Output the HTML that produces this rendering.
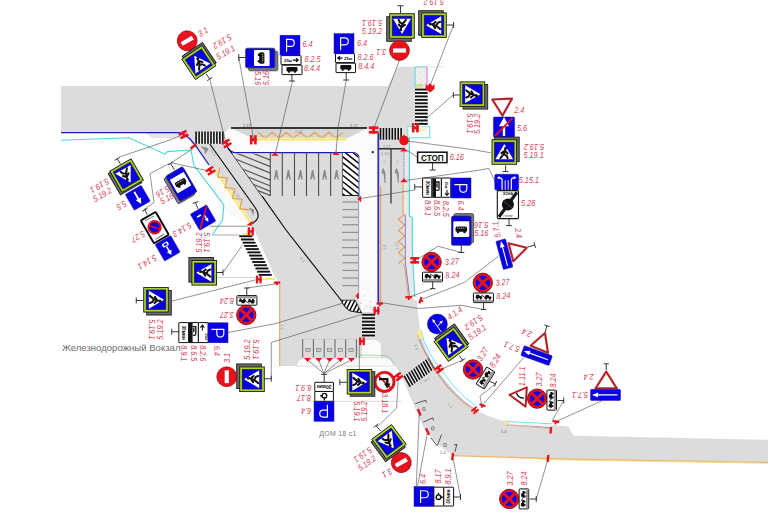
<!DOCTYPE html>
<html><head><meta charset="utf-8"><title>Road sign layout</title>
<style>html,body{margin:0;padding:0;background:#fff;}body{width:768px;height:512px;overflow:hidden;font-family:"Liberation Sans",sans-serif;}svg{display:block;}</style>
</head><body>
<svg width="768" height="512" viewBox="0 0 768 512" font-family="Liberation Sans, sans-serif">

<defs>
<g id="ped">
  <rect x="-12.3" y="-12.3" width="24.6" height="24.6" fill="#a8d42c" stroke="#1c1c1c" stroke-width="0.9"/>
  <rect x="-9.8" y="-9.8" width="19.6" height="19.6" fill="#0a00e4" stroke="#1c1c1c" stroke-width="0.6"/>
  <polygon points="0,-8 -8.9,7.2 8.9,7.2" fill="#fff"/>
  <circle cx="1.3" cy="-3.8" r="1.5" fill="#111"/>
  <path d="M0.9,-2.1 L-0.6,2.1 L-3.9,6.2 M-0.6,2.1 L2.4,3.9 L3.3,6.2 M0.7,-1.3 L-2.9,1.1 M0.7,-1.3 L3.3,1.5" stroke="#111" stroke-width="2" fill="none" stroke-linecap="round" stroke-linejoin="round"/>
  
</g>
<g id="pedsh">
  <rect x="-12.3" y="-12.3" width="24.6" height="24.6" fill="#6a6a6a" stroke="#1c1c1c" stroke-width="0.9"/>
</g>
<g id="noentry">
  <circle r="10" fill="#e8121c" stroke="#8a0008" stroke-width="0.6"/>
  <rect x="-6.4" y="-2.1" width="12.8" height="4.2" fill="#fff"/>
</g>
<g id="nostop">
  <circle r="9.7" fill="#e8121c" stroke="#70000a" stroke-width="0.8"/>
  <circle r="7.3" fill="#0a00e4"/>
  <path d="M-5.4,-5.4 L5.4,5.4 M5.4,-5.4 L-5.4,5.4" stroke="#e8121c" stroke-width="3"/>
</g>
<g id="P">
  <rect x="-10" y="-10" width="20" height="20" fill="#0a00e4" stroke="#2a20a0" stroke-width="0.5"/>
  <path d="M-3.4,6.6 V-5.8 H0.8 A3.5,3.5 0 0 1 0.8,1.2 H-3.4" stroke="#fff" stroke-width="1.15" fill="none"/>
</g>
<g id="bus">
  <rect x="-9.8" y="-14.6" width="19.6" height="29.2" rx="1.6" fill="#0a00e4" stroke="#303040" stroke-width="0.7"/>
  <rect x="-8" y="-9.4" width="16" height="15.6" rx="0.8" fill="#fff"/>
  <rect x="-5.8" y="-4.2" width="11.6" height="5.2" rx="1.5" fill="#111"/>
  <circle cx="-3.2" cy="1.2" r="1.3" fill="#111"/><circle cx="3.2" cy="1.2" r="1.3" fill="#111"/>
  <path d="M-4.2,-2.6 H4.2" stroke="#fff" stroke-width="0.7" stroke-dasharray="1.3 0.7"/>
</g>
<g id="bussh">
  <rect x="-9.8" y="-14.6" width="19.6" height="29.2" rx="1.6" fill="#7a7a86" stroke="#303040" stroke-width="0.7"/>
</g>
<g id="H">
  <rect x="-3.4" y="-4.6" width="2.6" height="9.2"/><rect x="0.8" y="-4.6" width="2.6" height="9.2"/><rect x="-3.4" y="-1.4" width="6.8" height="2.8"/>
</g>
<g id="T">
  <rect x="-4" y="-1.3" width="8" height="2.6"/><rect x="-1.1" y="-1.3" width="2.2" height="4.6"/>
</g>
<g id="B"><rect x="-1.4" y="-4.2" width="2.8" height="8.4" rx="0.6"/></g>
<g id="F">
  <path d="M-4.3,-1.7 H4.3 L1.4,1.2 L0,3.2 L-1.4,1.2 Z"/>
</g>
<g id="tow">
  <rect x="-10" y="-4.8" width="20" height="9.6" rx="0.8" fill="#fff" stroke="#111" stroke-width="1"/>
  <rect x="-9.4" y="2" width="18.8" height="2.3" fill="#9a9a9a"/>
  <path d="M-8,0.2 H-1.2 V-1.6 L-3.4,-1.8 L-4.6,-3 H-7 Z" fill="#111"/>
  <path d="M0.6,0.4 H8 V-1.4 H6 L5,-2.8 H2.4 L1.6,-1.4 Z" fill="#111"/>
  <path d="M-2.4,-3 L1.4,-0.6" stroke="#111" stroke-width="0.8"/>
  <circle cx="-6" cy="0.6" r="1.1" fill="#111"/><circle cx="-2.6" cy="0.6" r="1.1" fill="#111"/>
  <circle cx="2.6" cy="0.8" r="1.1" fill="#111"/><circle cx="6.4" cy="0.8" r="1.1" fill="#111"/>
</g>
</defs>

<path d="M61,86 L388,86 L398,66.7 L415,66.7 L415,126.5 L407.5,126.5 L407.5,138 L404.5,141 L404.5,262 L409,297 L417,301 L418.5,318 L420.5,333 L425,347 L430,357.5 L437,369 L445,380 L457,394 L472.5,408.5 L488,416 L505,421.5 L551,425 L567.5,426.3 C570.5,427 570.5,435 575,435.8 L768,439.8 L768,462.4 L572,459.3 L452.5,455.4 L443,448.3 L434.5,441.5 L428.5,435 L424,428.3 L420.5,420.5 L417,412.5 L411,398.5 L405.5,385.3 L402,377.3 L398,370 L394.6,365 L394.5,366 L280,366 L280,283 L275,277 L254.7,231 L250,223 L238.75,206.5 L215,170 L209,165 L196.5,147 L190,138.5 L185,135 L179,132.5 L61,132.5 Z" fill="#dcdcdc"/>
<polygon points="404.5,141 409.2,139 409.2,216 412,217.5 412,250 414.6,297 409,297 404.5,262" fill="#e9e9e9"/>
<path d="M231,128.3 L367,128.3 L377.6,128.3 L377.6,300 L379,305 L379,312 L362,312 L358.6,300 L358.6,158 Q358.6,152.6 353,152.6 L233,152.6 Q227,150 225,143 L225,134 Q226,129 231,128.3 Z" fill="#fbfbfb"/>
<polygon points="232,128.6 367,128.6 346,139 254,139" fill="#d6d6d6"/>
<path d="M362,357.5 V340 H375 Q381,341 381,348 V357.5 Z" fill="#fbfbfb"/>
<path d="M296,366.2 Q298,358 306,357.6 L384,357.6 Q392,358 394.5,366.2 Z" fill="#fbfbfb" stroke="#c4c4c4" stroke-width="0.5"/>
<path d="M359,357.8 L360.5,355 L385,355.6 Q391,357 393.5,364" fill="none" stroke="#78c878" stroke-width="0.7"/>
<polygon points="196.5,147 209,165 215,170 250,223 247,226 222,210 205,178 193,150" fill="#fafafa"/>
<polygon points="146,132.8 180,132.8 184,135.5 178,137.5 152,137.5" fill="#e6e6e6" stroke="#cfcfcf" stroke-width="0.4"/>
<pattern id="xh" width="2.4" height="2.4" patternUnits="userSpaceOnUse"><path d="M0,0 L2.4,2.4 M2.4,0 L0,2.4" stroke="#c4c4c4" stroke-width="0.4"/></pattern>
<rect x="415" y="66.9" width="12" height="21" fill="#fff"/><rect x="415" y="66.9" width="12" height="21" fill="url(#xh)"/>
<path d="M415,87.5 V66.9 H427" fill="none" stroke="#40d8d8" stroke-width="0.9"/>
<path d="M427,66.9 V86" fill="none" stroke="#e040e0" stroke-width="0.8"/>
<rect x="415.4" y="84" width="8" height="3.6" fill="#c0e080" opacity="0.8"/>
<path d="M415,66.8 H446" stroke="#d0d0d0" stroke-width="0.5"/>
<rect x="407.8" y="126.8" width="22" height="11" fill="#fff" stroke="#58dcdc" stroke-width="0.9"/>
<rect x="418" y="127.4" width="9" height="4" fill="#e8f0c0" opacity="0.8"/>
<rect x="195" y="131.5" width="30" height="12.3" fill="#ececec"/>
<rect x="195.30" y="131.5" width="1.63" height="12.30" fill="#111"/>
<rect x="198.27" y="131.5" width="1.63" height="12.30" fill="#111"/>
<rect x="201.24" y="131.5" width="1.63" height="12.30" fill="#111"/>
<rect x="204.21" y="131.5" width="1.63" height="12.30" fill="#111"/>
<rect x="207.18" y="131.5" width="1.63" height="12.30" fill="#111"/>
<rect x="210.15" y="131.5" width="1.63" height="12.30" fill="#111"/>
<rect x="213.12" y="131.5" width="1.63" height="12.30" fill="#111"/>
<rect x="216.09" y="131.5" width="1.63" height="12.30" fill="#111"/>
<rect x="219.06" y="131.5" width="1.63" height="12.30" fill="#111"/>
<rect x="222.03" y="131.5" width="1.63" height="12.30" fill="#111"/>
<rect x="379.5" y="128" width="23.5" height="11.7" fill="#ececec"/>
<rect x="379.70" y="128" width="1.62" height="11.70" fill="#111"/>
<rect x="382.65" y="128" width="1.62" height="11.70" fill="#111"/>
<rect x="385.60" y="128" width="1.62" height="11.70" fill="#111"/>
<rect x="388.55" y="128" width="1.62" height="11.70" fill="#111"/>
<rect x="391.50" y="128" width="1.62" height="11.70" fill="#111"/>
<rect x="394.45" y="128" width="1.62" height="11.70" fill="#111"/>
<rect x="397.40" y="128" width="1.62" height="11.70" fill="#111"/>
<rect x="400.35" y="128" width="1.62" height="11.70" fill="#111"/>
<rect x="415" y="88.3" width="12.7" height="38" fill="#fafafa"/>
<rect x="415" y="88.60" width="12.70" height="1.89" fill="#111"/>
<rect x="415" y="92.04" width="12.70" height="1.89" fill="#111"/>
<rect x="415" y="95.47" width="12.70" height="1.89" fill="#111"/>
<rect x="415" y="98.91" width="12.70" height="1.89" fill="#111"/>
<rect x="415" y="102.35" width="12.70" height="1.89" fill="#111"/>
<rect x="415" y="105.78" width="12.70" height="1.89" fill="#111"/>
<rect x="415" y="109.22" width="12.70" height="1.89" fill="#111"/>
<rect x="415" y="112.65" width="12.70" height="1.89" fill="#111"/>
<rect x="415" y="116.09" width="12.70" height="1.89" fill="#111"/>
<rect x="415" y="119.53" width="12.70" height="1.89" fill="#111"/>
<rect x="415" y="122.96" width="12.70" height="1.89" fill="#111"/>
<rect x="362" y="313.6" width="13" height="24.4" fill="#ececec"/>
<rect x="362" y="313.80" width="13.00" height="1.90" fill="#111"/>
<rect x="362" y="317.26" width="13.00" height="1.90" fill="#111"/>
<rect x="362" y="320.71" width="13.00" height="1.90" fill="#111"/>
<rect x="362" y="324.17" width="13.00" height="1.90" fill="#111"/>
<rect x="362" y="327.63" width="13.00" height="1.90" fill="#111"/>
<rect x="362" y="331.09" width="13.00" height="1.90" fill="#111"/>
<rect x="362" y="334.54" width="13.00" height="1.90" fill="#111"/>
<rect x="239.30" y="235.30" width="13" height="1.9" fill="#111"/>
<rect x="240.92" y="238.52" width="13" height="1.9" fill="#111"/>
<rect x="242.54" y="241.74" width="13" height="1.9" fill="#111"/>
<rect x="244.16" y="244.96" width="13" height="1.9" fill="#111"/>
<rect x="245.78" y="248.18" width="13" height="1.9" fill="#111"/>
<rect x="247.40" y="251.40" width="13" height="1.9" fill="#111"/>
<rect x="249.02" y="254.62" width="13" height="1.9" fill="#111"/>
<rect x="250.64" y="257.84" width="13" height="1.9" fill="#111"/>
<rect x="252.26" y="261.06" width="13" height="1.9" fill="#111"/>
<rect x="253.88" y="264.28" width="13" height="1.9" fill="#111"/>
<rect x="255.50" y="267.50" width="13" height="1.9" fill="#111"/>
<rect x="257.12" y="270.72" width="13" height="1.9" fill="#111"/>
<rect x="258.74" y="273.94" width="13" height="1.9" fill="#111"/>
<g transform="translate(419.4,372.2) rotate(-36.6) skewX(-7.3)">
<rect x="-16" y="-6.3" width="32" height="12.6" fill="#ececec"/>
<rect x="-16.00" y="-6.3" width="1.65" height="12.6" fill="#111"/>
<rect x="-13.03" y="-6.3" width="1.65" height="12.6" fill="#111"/>
<rect x="-10.06" y="-6.3" width="1.65" height="12.6" fill="#111"/>
<rect x="-7.09" y="-6.3" width="1.65" height="12.6" fill="#111"/>
<rect x="-4.12" y="-6.3" width="1.65" height="12.6" fill="#111"/>
<rect x="-1.15" y="-6.3" width="1.65" height="12.6" fill="#111"/>
<rect x="1.82" y="-6.3" width="1.65" height="12.6" fill="#111"/>
<rect x="4.79" y="-6.3" width="1.65" height="12.6" fill="#111"/>
<rect x="7.76" y="-6.3" width="1.65" height="12.6" fill="#111"/>
<rect x="10.73" y="-6.3" width="1.65" height="12.6" fill="#111"/>
<rect x="13.70" y="-6.3" width="1.65" height="12.6" fill="#111"/>
</g>
<polyline points="231,128 367,128" fill="none" stroke="#000" stroke-width="1.5" />
<polyline points="258.0,132.2 265.08,138.2 272.17,132.2 279.25,138.2 286.33,132.2 293.42,138.2 300.5,132.2 307.58,138.2 314.67,132.2 321.75,138.2 328.83,132.2 335.92,138.2 343.0,132.2" fill="none" stroke="#e8a058" stroke-width="1.15" />
<polyline points="255,139.4 346,139.4" fill="none" stroke="#fbf2b4" stroke-width="3.2" />
<polyline points="255,139.4 346,139.4" fill="none" stroke="#f4e04c" stroke-width="1.0" />
<path d="M226.5,144 Q228,151 234,152.6 L353,152.6 Q358.8,152.6 358.8,158.5 L358.8,197" fill="none" stroke="#1c1cb4" stroke-width="1.2"/>
<polyline points="358.6,197 358.6,298" fill="none" stroke="#7474b4" stroke-width="0.7" />
<polyline points="378.3,133 378.3,303" fill="none" stroke="#2c2cc0" stroke-width="1.7" />
<polyline points="380.6,186 380.6,303" fill="none" stroke="#e8a058" stroke-width="1.2" />
<polyline points="61,132.6 179,132.6 185,135 190,139 196.5,147 209,165" fill="none" stroke="#1c1cb4" stroke-width="1.25" />
<polyline points="61,140.2 129,137.8 165,154.2 167.5,151.6 191,150 193.8,165 223.8,205 222.5,220 212.5,234.5" fill="none" stroke="#44d8dc" stroke-width="1.1" />
<polyline points="214.5,169.6 250.5,222.5" fill="none" stroke="#fbf2b4" stroke-width="3.4" />
<polyline points="214.5,169.6 250.5,222.5" fill="none" stroke="#f4e04c" stroke-width="1.0" />
<polyline points="219.96,167.45 217.73,176.87 227.33,178.07 225.11,187.49 234.71,188.7 232.48,198.12 242.08,199.32 239.86,208.74 249.46,209.95" fill="none" stroke="#e8a058" stroke-width="1.25" />
<path d="M209.8,144 L254.7,207 Q260.5,215.5 256.5,220 L252.5,223.5" fill="none" stroke="#111" stroke-width="1.2"/>
<path d="M228.5,148.5 L286,230 L341.1,300.2 Q346,310 352,311.2 L361.6,312.6" fill="none" stroke="#111" stroke-width="1.2"/>
<clipPath id="chx"><polygon points="232,153.4 270.5,153.4 270.5,196 262,196"/></clipPath>
<polygon points="232,153.4 270.5,153.4 270.5,196 262,196" fill="#e0e0e0"/>
<g clip-path="url(#chx)">
<path d="M270.5,160.2 L200,132.0" stroke="#585858" stroke-width="1.25"/>
<path d="M270.5,166.7 L200,138.5" stroke="#585858" stroke-width="1.25"/>
<path d="M270.5,173.1 L200,144.9" stroke="#585858" stroke-width="1.25"/>
<path d="M270.5,180.2 L200,152.0" stroke="#585858" stroke-width="1.25"/>
<path d="M270.5,186 L200,157.8" stroke="#585858" stroke-width="1.25"/>
<path d="M270.5,191.3 L200,163.1" stroke="#585858" stroke-width="1.25"/>
<path d="M270.5,195.6 L200,167.4" stroke="#585858" stroke-width="1.25"/>
</g>
<polyline points="270.3,153 270.3,196" fill="none" stroke="#4c4c4c" stroke-width="1.1" />
<polyline points="282.3,153 282.3,196" fill="none" stroke="#4c4c4c" stroke-width="1.1" />
<polyline points="294.5,153 294.5,196" fill="none" stroke="#4c4c4c" stroke-width="1.1" />
<polyline points="306.5,153 306.5,196" fill="none" stroke="#4c4c4c" stroke-width="1.1" />
<polyline points="318.6,153 318.6,196" fill="none" stroke="#4c4c4c" stroke-width="1.1" />
<polyline points="330.6,153 330.6,196" fill="none" stroke="#4c4c4c" stroke-width="1.1" />
<polyline points="342.5,153 342.5,196" fill="none" stroke="#4c4c4c" stroke-width="1.1" />
<path d="M274.6,179.5 L276.3,170 L278.0,179.5 M275.3,176 H277.3" stroke="#858585" stroke-width="1.4" fill="none"/>
<path d="M286.7,179.5 L288.4,170 L290.09999999999997,179.5 M287.4,176 H289.4" stroke="#858585" stroke-width="1.4" fill="none"/>
<path d="M298.8,179.5 L300.5,170 L302.2,179.5 M299.5,176 H301.5" stroke="#858585" stroke-width="1.4" fill="none"/>
<path d="M310.90000000000003,179.5 L312.6,170 L314.3,179.5 M311.6,176 H313.6" stroke="#858585" stroke-width="1.4" fill="none"/>
<path d="M322.90000000000003,179.5 L324.6,170 L326.3,179.5 M323.6,176 H325.6" stroke="#858585" stroke-width="1.4" fill="none"/>
<path d="M334.90000000000003,179.5 L336.6,170 L338.3,179.5 M335.6,176 H337.6" stroke="#858585" stroke-width="1.4" fill="none"/>
<clipPath id="cb"><path d="M342.8,153 H353 Q358.6,153 358.6,158.5 V195.5 H342.8 Z"/></clipPath>
<path d="M342.8,153 H353 Q358.6,153 358.6,158.5 V195.5 H342.8 Z" fill="#fff"/>
<g clip-path="url(#cb)">
<path d="M342,131.4 L360,145.8" stroke="#111" stroke-width="1.6"/>
<path d="M342,137.6 L360,152.0" stroke="#111" stroke-width="1.6"/>
<path d="M342,143.8 L360,158.2" stroke="#111" stroke-width="1.6"/>
<path d="M342,150.0 L360,164.4" stroke="#111" stroke-width="1.6"/>
<path d="M342,156.2 L360,170.6" stroke="#111" stroke-width="1.6"/>
<path d="M342,162.4 L360,176.8" stroke="#111" stroke-width="1.6"/>
<path d="M342,168.6 L360,183.0" stroke="#111" stroke-width="1.6"/>
<path d="M342,174.8 L360,189.2" stroke="#111" stroke-width="1.6"/>
<path d="M342,181.0 L360,195.4" stroke="#111" stroke-width="1.6"/>
<path d="M342,187.2 L360,201.6" stroke="#111" stroke-width="1.6"/>
<path d="M342,193.4 L360,207.8" stroke="#111" stroke-width="1.6"/>
<path d="M342,199.6 L360,214.0" stroke="#111" stroke-width="1.6"/>
</g>
<polyline points="342.8,195.5 358.6,195.5" fill="none" stroke="#111" stroke-width="0.9" />
<polyline points="342.3,202.0 358,202.0" fill="none" stroke="#909090" stroke-width="1.2" />
<polyline points="342.3,209.6 358,209.6" fill="none" stroke="#909090" stroke-width="1.2" />
<polyline points="342.3,217.2 358,217.2" fill="none" stroke="#909090" stroke-width="1.2" />
<polyline points="342.3,224.8 358,224.8" fill="none" stroke="#909090" stroke-width="1.2" />
<polyline points="342.3,232.4 358,232.4" fill="none" stroke="#909090" stroke-width="1.2" />
<polyline points="342.3,240.0 358,240.0" fill="none" stroke="#909090" stroke-width="1.2" />
<polyline points="342.3,247.6 358,247.6" fill="none" stroke="#909090" stroke-width="1.2" />
<polyline points="342.3,255.2 358,255.2" fill="none" stroke="#909090" stroke-width="1.2" />
<polyline points="342.3,262.8 358,262.8" fill="none" stroke="#909090" stroke-width="1.2" />
<polyline points="342.3,270.4 358,270.4" fill="none" stroke="#909090" stroke-width="1.2" />
<polyline points="342.3,278.0 358,278.0" fill="none" stroke="#909090" stroke-width="1.2" />
<polyline points="342.3,285.6 358,285.6" fill="none" stroke="#909090" stroke-width="1.2" />
<clipPath id="ct"><path d="M341.1,300.2 L355.2,300.2 Q358,306 360,310 L361.6,312.6 L352,311.2 Q346,310 341.1,300.2 Z"/></clipPath>
<path d="M341.1,300.2 L355.2,300.2 Q358,306 360,310 L361.6,312.6 L352,311.2 Q346,310 341.1,300.2 Z" fill="#fff" stroke="#111" stroke-width="0.7"/>
<g clip-path="url(#ct)">
<path d="M344,298 L336,314" stroke="#111" stroke-width="1.6"/>
<path d="M348,298 L340,314" stroke="#111" stroke-width="1.6"/>
<path d="M352,298 L344,314" stroke="#111" stroke-width="1.6"/>
<path d="M356,298 L348,314" stroke="#111" stroke-width="1.6"/>
<path d="M360,298 L352,314" stroke="#111" stroke-width="1.6"/>
<path d="M364,298 L356,314" stroke="#111" stroke-width="1.6"/>
<path d="M368,298 L360,314" stroke="#111" stroke-width="1.6"/>
<path d="M372,298 L364,314" stroke="#111" stroke-width="1.6"/>
</g>
<polyline points="302.7,339 302.7,357.5" fill="none" stroke="#555" stroke-width="0.9" />
<polyline points="313.4,339 313.4,357.5" fill="none" stroke="#555" stroke-width="0.9" />
<polyline points="324.2,339 324.2,357.5" fill="none" stroke="#555" stroke-width="0.9" />
<polyline points="335,339 335,357.5" fill="none" stroke="#555" stroke-width="0.9" />
<polyline points="345.7,339 345.7,357.5" fill="none" stroke="#555" stroke-width="0.9" />
<polyline points="356.4,339 356.4,357.5" fill="none" stroke="#555" stroke-width="0.9" />
<polyline points="302.7,339.2 356.4,339.2" fill="none" stroke="#bdbdbd" stroke-width="0.5" />
<rect x="305.8" y="348.6" width="4.4" height="2.8" fill="#c8c8c8" stroke="#666" stroke-width="0.5"/>
<rect x="316.6" y="348.6" width="4.4" height="2.8" fill="#c8c8c8" stroke="#666" stroke-width="0.5"/>
<rect x="327.40000000000003" y="348.6" width="4.4" height="2.8" fill="#c8c8c8" stroke="#666" stroke-width="0.5"/>
<rect x="338.2" y="348.6" width="4.4" height="2.8" fill="#c8c8c8" stroke="#666" stroke-width="0.5"/>
<rect x="348.8" y="348.6" width="4.4" height="2.8" fill="#c8c8c8" stroke="#666" stroke-width="0.5"/>
<polyline points="378.6,148.8 404,148.8" fill="none" stroke="#111" stroke-width="1.3" />
<polyline points="391,149 391,203.5" fill="none" stroke="#222" stroke-width="1.15" />
<path d="M385.0,183 V174 Q385.0,171 383.0,171.5 M381.79999999999995,173 L383.2,168.6 L384.79999999999995,172.4 Z" stroke="#8a8a8a" stroke-width="1" fill="#8a8a8a"/>
<path d="M383.4,161 H385.4 M383.4,163 H385.4" stroke="#9a9a9a" stroke-width="0.5"/>
<path d="M398.20000000000005,183 V174 Q398.20000000000005,171 396.20000000000005,171.5 M395.0,173 L396.40000000000003,168.6 L398.0,172.4 Z" stroke="#8a8a8a" stroke-width="1" fill="#8a8a8a"/>
<path d="M396.6,161 H398.6 M396.6,163 H398.6" stroke="#9a9a9a" stroke-width="0.5"/>
<polyline points="404,152 404,179" fill="none" stroke="#5858d8" stroke-width="0.9" stroke-dasharray="0.9 0.9"/>
<polyline points="403,183.5 403,214" fill="none" stroke="#e8a058" stroke-width="1.0" />
<polyline points="404.9,214.0 398.3,219.5 404.9,225.0 398.3,230.5 404.9,236.0 398.3,241.5 404.9,247.0 398.3,252.5 404.9,258.0 398.3,263.5" fill="none" stroke="#e8a058" stroke-width="1.1" />
<polyline points="403,263.5 404.4,266 408.4,297" fill="none" stroke="#e8a058" stroke-width="0.9" />
<polyline points="405.3,215 405.3,262 409.6,297" fill="none" stroke="#4848d0" stroke-width="0.7" />
<polyline points="409.4,138 409.4,216 412.3,217.5 412.3,250 414.8,297" fill="none" stroke="#44d8dc" stroke-width="1.1" />
<polyline points="417.5,335 422,347 427.5,357.5 433,368 440,377.5 447,387 455,395 463,402.5 472.5,408.7" fill="none" stroke="#e8a058" stroke-width="0.9" />
<polyline points="418.5,336 423,347.5 428.5,357.5 434,368 441,377.5 448,386.5 456,394.5 464,401.8 473.5,408" fill="none" stroke="#6060d0" stroke-width="0.5" />
<polyline points="421,330 424,341 430,353.7 437,365 445,375 454,386.5 465,397.5 476,406" fill="none" stroke="#44d8dc" stroke-width="0.8" />
<polygon points="417,331 421,329 423,338 419,339" fill="#f4ec90"/>
<polyline points="504,421.3 528,422.6 552.5,423.8" fill="none" stroke="#44d8dc" stroke-width="0.8" />
<polyline points="506,424 528,425.6 551,427.6" fill="none" stroke="#7060c0" stroke-width="0.7" />
<polyline points="506,425 528,426.6 551,428.6" fill="none" stroke="#e8a058" stroke-width="0.7" />
<polygon points="503.5,420.5 507.5,420.8 507.5,425 504.5,424.5" fill="#f4ec90"/>
<polygon points="508,422 551,424.6 551,427 508,424.6" fill="#f4f4fa"/>
<polyline points="452.5,455.6 572,459.3 768,462.4" fill="none" stroke="#eeb868" stroke-width="1.4" />
<polyline points="540,459.6 768,463.4" fill="none" stroke="#f2dc90" stroke-width="0.8" />
<polyline points="279.7,283.5 279.7,366" fill="none" stroke="#e8a058" stroke-width="1.0" />
<rect x="243" y="233.2" width="8" height="1.6" fill="#f4e04c"/>
<rect x="263" y="278.2" width="12" height="1.5" fill="#f4e04c"/>
<path d="M415.2,403.7 L425.8,400.2 L426.4,402.8 M423.1,422.2 L432.8,417.8 L433.5,420.4 M431,438 L437.2,445.9 L441.6,434.5 M453.9,445 L456.9,444.3 L454.8,452" stroke="#444" stroke-width="0.9" fill="none"/>
<rect x="422.7" y="407.5" width="2.6" height="3" rx="0.6" fill="#d0d0d0" stroke="#555" stroke-width="0.6"/>
<rect x="431.5" y="426.8" width="2.6" height="3" rx="0.6" fill="#d0d0d0" stroke="#555" stroke-width="0.6"/>
<rect x="443.8" y="443.5" width="2.6" height="3" rx="0.6" fill="#d0d0d0" stroke="#555" stroke-width="0.6"/>
<path d="M200.5,146 L208.8,148.6 L205,154.5 L204.6,150.4 Z" fill="#8c8c8c"/>
<path d="M248.5,207.5 L254,209.5 L253.5,215.5 L251.6,211.5 Z" fill="#8c8c8c"/>
<circle cx="372.7" cy="152.2" r="1.1" fill="#111"/>
<text transform="translate(243,127) rotate(0)" font-size="4" fill="#666">1.17</text>
<text transform="translate(295,132.5) rotate(0)" font-size="4" fill="#888">1.17</text>
<text transform="translate(350,127) rotate(0)" font-size="4" fill="#666">1.17</text>
<text transform="translate(296,183) rotate(0)" font-size="4" fill="#eee">12.1</text>
<text transform="translate(383,147.5) rotate(0)" font-size="4" fill="#888">1.17</text>
<text transform="translate(381,155) rotate(0)" font-size="4" fill="#888">1.12</text>
<text transform="translate(210,150) rotate(55)" font-size="4" fill="#888">12.1</text>
<text transform="translate(233,192) rotate(55)" font-size="4" fill="#888">1.17</text>
<text transform="translate(300,258) rotate(55)" font-size="4" fill="#888">1.1</text>
<text transform="translate(386,250) rotate(-90)" font-size="4" fill="#888">1.4</text>
<text transform="translate(398,250) rotate(-90)" font-size="4" fill="#888">1.17</text>
<text transform="translate(283,330) rotate(-90)" font-size="4" fill="#888">1.1</text>
<text transform="translate(501,433) rotate(0)" font-size="4" fill="#666">1.4</text>
<text transform="translate(440,453.5) rotate(0)" font-size="4" fill="#666">1.4</text>
<text transform="translate(447,405) rotate(40)" font-size="4" fill="#888">1.1</text>
<text transform="translate(414,345) rotate(70)" font-size="4" fill="#888">1.1</text>
<text transform="translate(421,384) rotate(-28)" font-size="3.6" fill="#888">1.14.1</text>
<polyline points="209.8,79.4 226,143" fill="none" stroke="#4a4a4a" stroke-width="0.6" />
<polyline points="238.75,57.5 253.6,139" fill="none" stroke="#4a4a4a" stroke-width="0.6" />
<polyline points="292.5,81 275.2,154" fill="none" stroke="#4a4a4a" stroke-width="0.6" />
<polyline points="346.25,80 338,128 336,153" fill="none" stroke="#4a4a4a" stroke-width="0.6" />
<polyline points="399.5,60 373.6,129" fill="none" stroke="#4a4a4a" stroke-width="0.6" />
<polyline points="453.5,25 430,86" fill="none" stroke="#4a4a4a" stroke-width="0.6" />
<polyline points="453,95 428.75,116.3 416,127" fill="none" stroke="#4a4a4a" stroke-width="0.6" />
<polyline points="407,141 470,149.2 491,152.8" fill="none" stroke="#4a4a4a" stroke-width="0.6" />
<polyline points="407,150.3 417.5,157.5" fill="none" stroke="#4a4a4a" stroke-width="0.6" />
<polyline points="407,180.3 480,170 488.75,168.4 495.8,182.8" fill="none" stroke="#4a4a4a" stroke-width="0.6" />
<polyline points="414.7,190 361,198.4" fill="none" stroke="#4a4a4a" stroke-width="0.6" />
<polyline points="461.5,252.5 438,246.3 418.5,258.6" fill="none" stroke="#4a4a4a" stroke-width="0.6" />
<polyline points="432.7,288.6 409.5,297" fill="none" stroke="#4a4a4a" stroke-width="0.6" />
<polyline points="498.4,256.3 464.4,282.4 450,288.3 422.6,299" fill="none" stroke="#4a4a4a" stroke-width="0.6" />
<polyline points="483.6,309.5 461.3,305.3 418.5,308.5 381,302.6" fill="none" stroke="#4a4a4a" stroke-width="0.6" />
<polyline points="462.6,360.2 442.5,368.7" fill="none" stroke="#4a4a4a" stroke-width="0.6" />
<polyline points="495.5,383.75 480,396.25 481.5,404" fill="none" stroke="#4a4a4a" stroke-width="0.6" />
<polyline points="523.75,357.5 483.75,403.75" fill="none" stroke="#4a4a4a" stroke-width="0.6" />
<polyline points="563.75,400.5 552.5,420" fill="none" stroke="#4a4a4a" stroke-width="0.6" />
<polyline points="602.5,400.5 556,421.6" fill="none" stroke="#4a4a4a" stroke-width="0.6" />
<polyline points="536.25,499 548,459" fill="none" stroke="#4a4a4a" stroke-width="0.6" />
<polyline points="460.5,497 453,458" fill="none" stroke="#4a4a4a" stroke-width="0.6" />
<polyline points="416.25,486.5 419.25,413" fill="none" stroke="#4a4a4a" stroke-width="0.6" />
<polyline points="417.5,486.5 427.5,432" fill="none" stroke="#4a4a4a" stroke-width="0.6" />
<polyline points="398.6,377.5 398.2,380 396.6,408 378.5,425.6 376.2,425.6" fill="none" stroke="#4a4a4a" stroke-width="0.6" />
<polyline points="359.3,345.6 359.3,369" fill="none" stroke="#4a4a4a" stroke-width="0.6" />
<polyline points="307.6,360 323.8,373.6" fill="none" stroke="#4a4a4a" stroke-width="0.6" />
<polyline points="318.7,360 323.8,373.6" fill="none" stroke="#4a4a4a" stroke-width="0.6" />
<polyline points="329.6,360 323.8,373.6" fill="none" stroke="#4a4a4a" stroke-width="0.6" />
<polyline points="340.4,360 323.8,373.6" fill="none" stroke="#4a4a4a" stroke-width="0.6" />
<polyline points="351.5,360 323.8,373.6" fill="none" stroke="#4a4a4a" stroke-width="0.6" />
<polyline points="271.25,378.75 271.25,342.5 363,314" fill="none" stroke="#4a4a4a" stroke-width="0.6" />
<polyline points="228,332.5 275,323.75 342,303.4" fill="none" stroke="#4a4a4a" stroke-width="0.6" />
<polyline points="171.25,301.25 255,280" fill="none" stroke="#4a4a4a" stroke-width="0.6" />
<polyline points="223,272.5 242.5,245" fill="none" stroke="#4a4a4a" stroke-width="0.6" />
<polyline points="217,277.5 255,277.5" fill="none" stroke="#b8b8b8" stroke-width="0.6" />
<polyline points="246.75,288 278,283.6" fill="none" stroke="#4a4a4a" stroke-width="0.6" />
<polyline points="210,226.25 247.5,226.25" fill="none" stroke="#4a4a4a" stroke-width="0.6" />
<polyline points="212.5,235 240,235" fill="none" stroke="#a87878" stroke-width="0.7" />
<polyline points="119.7,156.9 169.7,140 181,135.5" fill="none" stroke="#4a4a4a" stroke-width="0.6" />
<polyline points="171.25,162.7 193,148.6" fill="none" stroke="#4a4a4a" stroke-width="0.6" />
<polyline points="171.25,162.7 206.4,170.5" fill="none" stroke="#4a4a4a" stroke-width="0.6" />
<polyline points="144,209.5 154,202.5 150,173.6 169.7,163.4" fill="none" stroke="#4a4a4a" stroke-width="0.6" />
<polyline points="306.6,401.3 401.3,401.3" fill="none" stroke="#b0b0b0" stroke-width="0.5" />
<use href="#H" transform="translate(183.5,134.6) rotate(63) scale(0.95)" fill="#e8121c"/>
<use href="#B" transform="translate(193.4,146.5) rotate(55) scale(0.85)" fill="#e8121c"/>
<use href="#H" transform="translate(226.6,143.5) rotate(60) scale(0.95)" fill="#e8121c"/>
<use href="#H" transform="translate(210.5,170.8) rotate(58) scale(0.95)" fill="#e8121c"/>
<use href="#H" transform="translate(253.3,139.8) rotate(0) scale(1)" fill="#e8121c"/>
<use href="#F" transform="translate(275,154.4) rotate(180) scale(0.85)" fill="#e8121c"/>
<use href="#F" transform="translate(336,153.6) rotate(180) scale(0.8)" fill="#e8121c"/>
<use href="#H" transform="translate(373.6,130) rotate(90) scale(1.05)" fill="#e8121c"/>
<use href="#H" transform="translate(415.3,127.8) rotate(0) scale(1.0)" fill="#e8121c"/>
<circle cx="404" cy="140.5" r="4.8" fill="#e8121c"/>
<use href="#T" transform="translate(404,137) rotate(180) scale(0.7)" fill="#e8121c"/>
<use href="#F" transform="translate(404,150) rotate(180) scale(0.9)" fill="#e8121c"/>
<use href="#F" transform="translate(404,180.8) rotate(180) scale(0.9)" fill="#e8121c"/>
<path d="M425.5,84 L427.5,86 L430,83 L432.5,86 L434.5,84 V89 L430,92.5 L425.5,89 Z" fill="#e8121c"/>
<use href="#F" transform="translate(359.8,199) rotate(90) scale(0.8)" fill="#e8121c"/>
<use href="#H" transform="translate(414.7,260.3) rotate(90) scale(0.95)" fill="#e8121c"/>
<use href="#T" transform="translate(408.75,297.2) rotate(0) scale(0.85)" fill="#e8121c"/>
<use href="#T" transform="translate(420.5,300.3) rotate(-70) scale(0.85)" fill="#e8121c"/>
<use href="#T" transform="translate(379.7,303.6) rotate(0) scale(0.8)" fill="#e8121c"/>
<use href="#H" transform="translate(376.5,310.6) rotate(0) scale(0.85)" fill="#e8121c"/>
<use href="#T" transform="translate(357.8,296) rotate(90) scale(0.7)" fill="#e8121c"/>
<use href="#H" transform="translate(361.9,341.3) rotate(0) scale(0.85)" fill="#e8121c"/>
<use href="#H" transform="translate(250.8,231.4) rotate(0) scale(0.9)" fill="#e8121c"/>
<use href="#F" transform="translate(250.2,224.2) rotate(-35) scale(0.8)" fill="#e8121c"/>
<use href="#H" transform="translate(258.75,279.5) rotate(0) scale(0.85)" fill="#e8121c"/>
<use href="#T" transform="translate(277,282.6) rotate(0) scale(0.8)" fill="#e8121c"/>
<use href="#F" transform="translate(307.6,359.4) rotate(0) scale(0.85)" fill="#e8121c"/>
<use href="#F" transform="translate(318.7,359.4) rotate(0) scale(0.85)" fill="#e8121c"/>
<use href="#F" transform="translate(329.6,359.4) rotate(0) scale(0.85)" fill="#e8121c"/>
<use href="#F" transform="translate(340.4,359.4) rotate(0) scale(0.85)" fill="#e8121c"/>
<use href="#F" transform="translate(351.5,359.4) rotate(0) scale(0.85)" fill="#e8121c"/>
<use href="#H" transform="translate(398.4,376.6) rotate(55) scale(0.9)" fill="#e8121c"/>
<use href="#H" transform="translate(439,369) rotate(55) scale(0.9)" fill="#e8121c"/>
<use href="#B" transform="translate(419.3,412.3) rotate(-22) scale(0.85)" fill="#e8121c"/>
<use href="#B" transform="translate(427.5,431.5) rotate(-25) scale(0.85)" fill="#e8121c"/>
<use href="#B" transform="translate(452.6,456.5) rotate(8) scale(0.85)" fill="#e8121c"/>
<use href="#B" transform="translate(548,458.4) rotate(5) scale(0.85)" fill="#e8121c"/>
<use href="#H" transform="translate(475,410.3) rotate(50) scale(0.75)" fill="#e8121c"/>
<use href="#T" transform="translate(482.5,405.3) rotate(20) scale(0.8)" fill="#e8121c"/>
<use href="#B" transform="translate(550.8,430.3) rotate(5) scale(0.8)" fill="#e8121c"/>
<use href="#T" transform="translate(555.8,421.6) rotate(10) scale(0.85)" fill="#e8121c"/>
<circle cx="252.5" cy="223" r="1.2" fill="#e8121c"/>
<rect x="363.7" y="288.5" width="0.7" height="0.7" fill="#f0d0d0"/><rect x="368.1" y="288.2" width="0.7" height="0.7" fill="#e8c8c8"/><rect x="366.7" y="308.0" width="0.7" height="0.7" fill="#e8c8c8"/><rect x="363.5" y="298.9" width="0.7" height="0.7" fill="#e0e0e0"/><rect x="373.5" y="305.8" width="0.7" height="0.7" fill="#e0e0e0"/><rect x="363.4" y="308.3" width="0.7" height="0.7" fill="#e0e0e0"/><rect x="373.9" y="290.6" width="0.7" height="0.7" fill="#e0e0e0"/><rect x="364.7" y="306.8" width="0.7" height="0.7" fill="#e0e0e0"/><rect x="361.1" y="300.5" width="0.7" height="0.7" fill="#f0d0d0"/><rect x="368.6" y="290.3" width="0.7" height="0.7" fill="#f0d0d0"/><rect x="364.5" y="308.7" width="0.7" height="0.7" fill="#e04040"/><rect x="374.6" y="286.2" width="0.7" height="0.7" fill="#e0e0e0"/><rect x="369.8" y="307.2" width="0.7" height="0.7" fill="#e04040"/><rect x="363.0" y="296.2" width="0.7" height="0.7" fill="#e0e0e0"/><rect x="367.3" y="289.9" width="0.7" height="0.7" fill="#e0e0e0"/><rect x="364.2" y="305.1" width="0.7" height="0.7" fill="#e8c8c8"/><rect x="360.3" y="301.0" width="0.7" height="0.7" fill="#e0e0e0"/><rect x="368.8" y="301.6" width="0.7" height="0.7" fill="#e0e0e0"/><rect x="362.1" y="302.2" width="0.7" height="0.7" fill="#e8c8c8"/><rect x="366.9" y="290.9" width="0.7" height="0.7" fill="#f0d0d0"/><rect x="364.5" y="294.5" width="0.7" height="0.7" fill="#e04040"/><rect x="365.3" y="299.4" width="0.7" height="0.7" fill="#e0e0e0"/><rect x="361.3" y="287.5" width="0.7" height="0.7" fill="#d8d8e8"/><rect x="364.5" y="300.0" width="0.7" height="0.7" fill="#d8d8e8"/><rect x="361.7" y="308.4" width="0.7" height="0.7" fill="#e0e0e0"/><rect x="367.8" y="287.0" width="0.7" height="0.7" fill="#e8c8c8"/>
<rect x="360" y="303" width="0.8" height="0.8" fill="#e8121c" opacity="0.7"/>
<rect x="366" y="306" width="0.8" height="0.8" fill="#e8121c" opacity="0.7"/>
<rect x="372" y="309" width="0.8" height="0.8" fill="#e8121c" opacity="0.7"/>
<rect x="370" y="301" width="0.8" height="0.8" fill="#e8121c" opacity="0.7"/>
<use href="#noentry" transform="translate(187.2,40.8) rotate(-30)" />
<use href="#pedsh" transform="translate(199.20000000000002,59.5) rotate(-34)" />
<use href="#ped" transform="translate(198.8,62.5) rotate(-34)" />
<path d="M206.2,73.8 L209.7,79 M212.19,77.32 L207.21,80.68" stroke="#222" stroke-width="0.9" fill="none"/>
<use href="#bussh" transform="translate(263.2,61) rotate(90)" />
<use href="#bus" transform="translate(260.2,58) rotate(90)" />
<path d="M245.5,57.5 L238.75,57.5 M238.75,60.90 L238.75,54.10" stroke="#222" stroke-width="0.9" fill="none"/>
<use href="#P" transform="translate(290,45.2) rotate(0)" />
<g transform="translate(281,55.6)"><rect x="0" y="0" width="20" height="9" rx="0.4" fill="#fff" stroke="#111" stroke-width="1"/><text transform="translate(7,6.4) rotate(0)" font-size="4.4" font-weight="bold" fill="#111" text-anchor="middle">25м</text><path d="M12,4.5 H17 M15,2.6 L17.2,4.5 L15,6.4" stroke="#111" stroke-width="1.1" fill="none"/></g>
<g transform="translate(282,65.2)"><rect x="0" y="0" width="20" height="9.4" rx="0.4" fill="#fff" stroke="#111" stroke-width="1"/><rect x="4.5" y="1.8000000000000003" width="11" height="4.4" rx="1.2" fill="#111"/><circle cx="7" cy="6.6000000000000005" r="1.1" fill="#111"/><circle cx="13" cy="6.6000000000000005" r="1.1" fill="#111"/></g>
<path d="M291.9,74.6 L291.9,81 M294.90,81.00 L288.90,81.00" stroke="#222" stroke-width="0.9" fill="none"/>
<use href="#P" transform="translate(344,43.6) rotate(0)" />
<g transform="translate(335.5,53.6)"><rect x="0" y="0" width="19" height="9" rx="0.4" fill="#fff" stroke="#111" stroke-width="1"/><path d="M7,4.5 H2.4 M4.6,2.6 L2.2,4.5 L4.6,6.4" stroke="#111" stroke-width="1.1" fill="none"/><text transform="translate(12.6,6.4) rotate(0)" font-size="4.4" font-weight="bold" fill="#111" text-anchor="middle">25м</text></g>
<g transform="translate(336,63.2)"><rect x="0" y="0" width="19.5" height="9.4" rx="0.4" fill="#fff" stroke="#111" stroke-width="1"/><rect x="4.300000000000001" y="1.8000000000000003" width="11" height="4.4" rx="1.2" fill="#111"/><circle cx="6.800000000000001" cy="6.6000000000000005" r="1.1" fill="#111"/><circle cx="12.8" cy="6.6000000000000005" r="1.1" fill="#111"/></g>
<path d="M346.2,72.6 L346.2,80 M349.20,80.00 L343.20,80.00" stroke="#222" stroke-width="0.9" fill="none"/>
<use href="#pedsh" transform="translate(399,29) rotate(180)" />
<use href="#ped" transform="translate(402,26) rotate(180)" />
<path d="M400.5,13 L400.5,5.8 M397.50,5.80 L403.50,5.80" stroke="#222" stroke-width="0.9" fill="none"/>
<use href="#noentry" transform="translate(399.5,50.5) rotate(0)" />
<use href="#pedsh" transform="translate(431,23.0) rotate(-90)" />
<use href="#ped" transform="translate(434,25.2) rotate(-90)" />
<path d="M447,25 L453.6,25 M453.60,22.00 L453.60,28.00" stroke="#222" stroke-width="0.9" fill="none"/>
<use href="#pedsh" transform="translate(475.4,96.8) rotate(90)" />
<use href="#ped" transform="translate(472.4,94.2) rotate(90)" />
<path d="M459.5,95 L453.3,95 M453.30,98.00 L453.30,92.00" stroke="#222" stroke-width="0.9" fill="none"/>
<polygon points="492.3,99.5 512,98.6 502.5,115.6" fill="#fff" stroke="#c42a30" stroke-width="2.2" stroke-linejoin="round"/>
<polygon points="492.3,99.5 512,98.6 502.5,115.6" fill="none" stroke="#6a1010" stroke-width="0.3" stroke-linejoin="round"/>
<g transform="translate(504,127)"><rect x="-10.6" y="-10" width="21.2" height="20" rx="1" fill="#0a00e4" stroke="#2a20a0" stroke-width="0.5"/><path d="M0,9 V-3 M0,-7.5 L-3,-2 H3 Z" stroke="#fff" stroke-width="2.4" fill="#fff"/><path d="M-9,9 L8.5,-9" stroke="#e8121c" stroke-width="1.8"/></g>
<use href="#pedsh" transform="translate(506.90000000000003,149.4) rotate(0)" />
<use href="#ped" transform="translate(504.3,152) rotate(0)" />
<path d="M505.6,165.3 L505.6,171.5 M508.60,171.50 L502.60,171.50" stroke="#222" stroke-width="0.9" fill="none"/>
<g transform="translate(506.7,182.2)"><rect x="-12" y="-8" width="24" height="16" rx="1.6" fill="#0a00e4" stroke="#2a20a0" stroke-width="0.5"/><path d="M-1.5,7.6 V-2 M1.5,7.6 V-2" stroke="#fff" stroke-width="0.9"/><path d="M-4.6,7.6 V-2 Q-4.6,-4.4 -7,-4.4" stroke="#fff" stroke-width="1.2" fill="none"/><path d="M-9.8,-4.4 L-7,-6.2 V-2.6 Z" fill="#fff"/><path d="M4.6,7.6 V-2 Q4.6,-4.4 7,-4.4" stroke="#fff" stroke-width="1.2" fill="none"/><path d="M9.8,-4.4 L7,-6.2 V-2.6 Z" fill="#fff"/></g>
<g transform="translate(507.9,204.6)"><rect x="-10.6" y="-14" width="21.2" height="28" rx="1" fill="#fff" stroke="#111" stroke-width="1.1"/><path d="M9,-12.4 L-9,12.4" stroke="#1a1a1a" stroke-width="3.2"/><circle r="6" fill="#111"/><path d="M-4,-3.4 L4,3.4" stroke="#555" stroke-width="0.8"/><text x="0" y="-9.4" font-size="3.6" font-weight="bold" text-anchor="middle" fill="#111">ЗОНА</text><text x="0" y="12" font-size="2.6" text-anchor="middle" fill="#333">стоянки</text></g>
<path d="M509,218.6 L509,225.6 M512.00,225.60 L506.00,225.60" stroke="#222" stroke-width="0.9" fill="none"/>
<rect x="417.6" y="152.2" width="29.4" height="10.4" fill="#fff" stroke="#111" stroke-width="1.5"/><text transform="translate(432.3,160.5) rotate(0)" font-size="8.2" font-weight="bold" fill="#111" text-anchor="middle">СТОП</text>
<path d="M432.6,162.5 L432.6,170 M435.60,170.00 L429.60,170.00" stroke="#222" stroke-width="0.9" fill="none"/>
<g transform="translate(422.6,178)"><rect x="0" y="0" width="9.4" height="19.3" rx="0.4" fill="#fff" stroke="#111" stroke-width="1"/><text transform="translate(3.4,9.8) rotate(90)" font-size="4.6" font-weight="bold" fill="#111" text-anchor="middle">30мин</text></g>
<g transform="translate(432,178)"><rect width="9.4" height="19.3" rx="0.4" fill="#fff" stroke="#111" stroke-width="1"/><rect x="0.4" y="0.4" width="3.6" height="18.5" fill="#111"/><path d="M4,4 H7 V11 Q7,13 4,12 M5,5.2 V9.6" stroke="#111" stroke-width="1.3" fill="none"/></g>
<g transform="translate(441.4,178)"><rect x="0" y="0" width="9.4" height="19.3" rx="0.4" fill="#fff" stroke="#111" stroke-width="1"/><text transform="translate(3.8,7) rotate(90)" font-size="3.8" font-weight="bold" fill="#111" text-anchor="middle">25м</text><path d="M5.6,12 V17 M3.6,15 L5.6,17.4 L7.6,15" stroke="#111" stroke-width="1.1" fill="none"/></g>
<use href="#P" transform="translate(461,188) rotate(90)" />
<path d="M422.6,186.9 L414.7,186.9 M414.70,189.90 L414.70,183.90" stroke="#222" stroke-width="0.9" fill="none"/>
<use href="#bussh" transform="translate(463.8,228.2) rotate(0)" />
<use href="#bus" transform="translate(461.3,230.7) rotate(0)" />
<path d="M461.3,245.3 L461.3,252.5 M464.30,252.50 L458.30,252.50" stroke="#222" stroke-width="0.9" fill="none"/>
<g transform="translate(504.4,254.2) rotate(-15)"><rect x="-5" y="-14.6" width="10" height="29.2" rx="1" fill="#0a00e4" stroke="#2a20a0" stroke-width="0.5"/><path d="M0,12 V-9 M0,-12 L-1.6,-8 H1.6 Z" stroke="#fff" stroke-width="1.1" fill="#fff"/></g>
<polygon points="508.6,243.2 526.8,247.8 513.3,261.3" fill="#fff" stroke="#c42a30" stroke-width="2.2" stroke-linejoin="round"/>
<polygon points="508.6,243.2 526.8,247.8 513.3,261.3" fill="none" stroke="#6a1010" stroke-width="0.3" stroke-linejoin="round"/>
<path d="M527.8,247 L534.7,245 M533.86,242.12 L535.54,247.88" stroke="#222" stroke-width="0.9" fill="none"/>
<use href="#nostop" transform="translate(431.6,262) rotate(0)" />
<use href="#tow" transform="translate(432.5,277) rotate(0)" />
<path d="M432.7,281.8 L432.7,288.6 M435.30,288.60 L430.10,288.60" stroke="#222" stroke-width="0.9" fill="none"/>
<use href="#nostop" transform="translate(482.8,282.8) rotate(0)" />
<use href="#tow" transform="translate(483.4,297.8) rotate(0)" />
<path d="M483.6,302.6 L483.6,309.5 M486.20,309.50 L481.00,309.50" stroke="#222" stroke-width="0.9" fill="none"/>
<g transform="translate(437.4,324.1)"><circle r="10" fill="#0a00e4" stroke="#181880" stroke-width="0.6"/><path d="M4.1,8.2 L-3.6,-2.8" stroke="#fff" stroke-width="1" fill="none"/><path d="M-5.2,-5.2 L-1.8,-3.2 L-4.4,-1.4 Z" fill="#fff"/><path d="M0,2.4 L3.4,-1.6" stroke="#fff" stroke-width="1" fill="none"/><path d="M5.6,-3.6 L1.8,-2.4 L4.2,-0.2 Z" fill="#fff"/></g>
<use href="#pedsh" transform="translate(451.7,341.0) rotate(-36)" />
<use href="#ped" transform="translate(451.2,344.2) rotate(-36)" />
<path d="M459.3,355.6 L462.6,360.2 M465.04,358.45 L460.16,361.95" stroke="#222" stroke-width="0.9" fill="none"/>
<use href="#nostop" transform="translate(473,369.5) rotate(0)" />
<use href="#tow" transform="translate(485.5,378) rotate(-58)" />
<path d="M489.6,381.4 L495.5,383.8 M496.63,381.02 L494.37,386.58" stroke="#222" stroke-width="0.9" fill="none"/>
<polygon points="545,333 530.6,345.8 548,352.8" fill="#fff" stroke="#c42a30" stroke-width="2.2" stroke-linejoin="round"/>
<polygon points="545,333 530.6,345.8 548,352.8" fill="none" stroke="#6a1010" stroke-width="0.3" stroke-linejoin="round"/>
<path d="M545,332 L547,325.8 M544.53,325.00 L549.47,326.60" stroke="#222" stroke-width="0.9" fill="none"/>
<g transform="translate(536.6,355.6) rotate(20)"><rect x="-15" y="-5.2" width="30" height="10.4" rx="1" fill="#0a00e4" stroke="#2a20a0" stroke-width="0.5"/><path d="M12,0 H-8 M-12,0 L-8,-1.6 V1.6 Z" stroke="#fff" stroke-width="1.1" fill="#fff"/></g>
<polygon points="509.4,394.8 526.8,387.4 525.6,406.6" fill="#fff" stroke="#c0262c" stroke-width="2" stroke-linejoin="round"/><polygon points="509.4,394.8 526.8,387.4 525.6,406.6" fill="none" stroke="#6a1010" stroke-width="0.3" stroke-linejoin="round"/>
<path d="M516.5,393 Q518.5,398.5 524,398" stroke="#111" stroke-width="1.3" fill="none"/>
<use href="#nostop" transform="translate(537.1,398.6) rotate(0)" />
<use href="#tow" transform="translate(551.7,400.1) rotate(-90)" />
<path d="M557.5,400.5 L563.75,400.5 M563.75,397.50 L563.75,403.50" stroke="#222" stroke-width="0.9" fill="none"/>
<polygon points="606.2,371.6 595.6,388.4 616.8,388.4" fill="#fff" stroke="#c42a30" stroke-width="2.2" stroke-linejoin="round"/>
<polygon points="606.2,371.6 595.6,388.4 616.8,388.4" fill="none" stroke="#6a1010" stroke-width="0.3" stroke-linejoin="round"/>
<path d="M606.25,370 L606.25,363.8 M603.65,363.80 L608.85,363.80" stroke="#222" stroke-width="0.9" fill="none"/>
<g transform="translate(605.5,394.9)"><rect x="-15" y="-5.6" width="30" height="11.2" rx="1" fill="#0a00e4" stroke="#2a20a0" stroke-width="0.5"/><path d="M12,0 H-8 M-12,0 L-8,-1.6 V1.6 Z" stroke="#fff" stroke-width="1.1" fill="#fff"/></g>
<use href="#nostop" transform="translate(509.25,499) rotate(0)" />
<use href="#tow" transform="translate(523.9,498.9) rotate(-90)" />
<path d="M529.5,499 L536.25,499 M536.25,496.00 L536.25,502.00" stroke="#222" stroke-width="0.9" fill="none"/>
<use href="#P" transform="translate(424,496.5) rotate(0)" />
<g transform="translate(433.9,487.2)"><rect width="9.8" height="18.8" rx="0.4" fill="#fff" stroke="#111" stroke-width="1"/><circle cx="4.6" cy="10" r="2.3" fill="none" stroke="#111" stroke-width="1.4"/><path d="M6.8,10 H9 M4.6,7.6 V5.6" stroke="#111" stroke-width="1.4"/></g>
<g transform="translate(443.8,487.2)"><rect x="0" y="0" width="9.8" height="18.8" rx="0.4" fill="#fff" stroke="#111" stroke-width="1"/><text transform="translate(6.6,9.4) rotate(-90)" font-size="4.6" font-weight="bold" fill="#111" text-anchor="middle">30мин</text></g>
<path d="M453.75,497 L460.5,497 M460.50,494.00 L460.50,500.00" stroke="#222" stroke-width="0.9" fill="none"/>
<use href="#pedsh" transform="translate(388.2,444.6) rotate(143.5)" />
<use href="#ped" transform="translate(389,441.8) rotate(143.5)" />
<path d="M380.5,431 L376,425.6 M373.70,427.52 L378.30,423.68" stroke="#222" stroke-width="0.9" fill="none"/>
<use href="#noentry" transform="translate(401.3,462.6) rotate(-30)" />
<g transform="translate(384.5,381.9)"><circle r="9.4" fill="#fff" stroke="#e8121c" stroke-width="2.7"/><path d="M-6.4,-6.4 L6.4,6.4" stroke="#e8121c" stroke-width="1.7"/><path d="M-5.6,-2.8 H2.8 V2.4" stroke="#111" stroke-width="2.4" fill="none"/><path d="M2.8,6.6 L-0.6,1.6 H6.2 Z" fill="#111"/><circle r="10.8" fill="none" stroke="#600" stroke-width="0.4"/></g>
<use href="#pedsh" transform="translate(362.5,383.95) rotate(90)" />
<use href="#ped" transform="translate(359.5,381.75) rotate(90)" />
<path d="M347,382.3 L339.8,382.3 M339.80,385.30 L339.80,379.30" stroke="#222" stroke-width="0.9" fill="none"/>
<g transform="translate(314.8,382.3)"><rect x="0" y="0" width="18.6" height="9.2" rx="0.4" fill="#fff" stroke="#111" stroke-width="1"/><text transform="translate(9.3,2.2) rotate(180)" font-size="4.8" font-weight="bold" fill="#111" text-anchor="middle">30мин</text></g>
<g transform="translate(314.8,391.5)"><rect width="18.6" height="9.8" rx="0.4" fill="#fff" stroke="#111" stroke-width="1"/><circle cx="9.6" cy="4.2" r="2.3" fill="none" stroke="#111" stroke-width="1.4"/><path d="M9.6,6.6 V9 M7.4,4.2 H5.4" stroke="#111" stroke-width="1.4"/></g>
<use href="#P" transform="translate(324,411.3) rotate(180)" />
<path d="M324.2,382.3 L324.2,374.4 M321.20,374.40 L327.20,374.40" stroke="#222" stroke-width="0.9" fill="none"/>
<use href="#pedsh" transform="translate(249,376.25) rotate(-90)" />
<use href="#ped" transform="translate(252,379.25) rotate(-90)" />
<path d="M264.5,378.75 L271.25,378.75 M271.25,375.75 L271.25,381.75" stroke="#222" stroke-width="0.9" fill="none"/>
<use href="#noentry" transform="translate(226.75,376.75) rotate(90)" />
<g transform="translate(178.8,322.6)"><rect x="0" y="0" width="9.8" height="20" rx="0.4" fill="#fff" stroke="#111" stroke-width="1"/><text transform="translate(3.4,10) rotate(90)" font-size="4.6" font-weight="bold" fill="#111" text-anchor="middle">30мин</text></g>
<g transform="translate(188.6,322.6)"><rect width="9.8" height="20" rx="0.4" fill="#fff" stroke="#111" stroke-width="1"/><rect x="0.4" y="0.4" width="3.6" height="19.2" fill="#111"/><path d="M4,4 H7.2 V11 Q7.2,13.4 4,12.4 M5.2,5.2 V9.6" stroke="#111" stroke-width="1.3" fill="none"/></g>
<g transform="translate(198.4,322.6)"><rect x="0" y="0" width="9.8" height="20" rx="0.4" fill="#fff" stroke="#111" stroke-width="1"/><path d="M4,8 V3 M2,5 L4,2.6 L6,5" stroke="#111" stroke-width="1.1" fill="none"/><text transform="translate(6.6,14) rotate(90)" font-size="3.6" font-weight="bold" fill="#111" text-anchor="middle">25м</text></g>
<use href="#P" transform="translate(218,332.8) rotate(90)" />
<path d="M178.8,331.75 L171.75,331.75 M171.75,334.75 L171.75,328.75" stroke="#222" stroke-width="0.9" fill="none"/>
<use href="#tow" transform="translate(246.9,300.4) rotate(180)" />
<use href="#nostop" transform="translate(246.25,315) rotate(0)" />
<path d="M246.75,295.4 L246.75,288 M244.15,288.00 L249.35,288.00" stroke="#222" stroke-width="0.9" fill="none"/>
<use href="#pedsh" transform="translate(159,302.75) rotate(90)" />
<use href="#ped" transform="translate(156,299.75) rotate(90)" />
<path d="M143,300.5 L136.25,300.5 M136.25,303.50 L136.25,297.50" stroke="#222" stroke-width="0.9" fill="none"/>
<use href="#pedsh" transform="translate(201.2,269.8) rotate(-90)" />
<use href="#ped" transform="translate(204.2,272.8) rotate(-90)" />
<path d="M217,272.5 L223,272.5 M223.00,269.50 L223.00,275.50" stroke="#222" stroke-width="0.9" fill="none"/>
<g transform="translate(137.7,197.8) rotate(-30)"><rect x="-9.2" y="-9.2" width="18.4" height="18.4" rx="1" fill="#0a00e4" stroke="#2a20a0" stroke-width="0.5"/><path d="M0,-7 V2" stroke="#fff" stroke-width="1.8"/><path d="M0,7.2 L-2.9,1.2 H2.9 Z" fill="#fff"/></g>
<use href="#pedsh" transform="translate(125.0,178.2) rotate(150)" />
<use href="#ped" transform="translate(126.6,175.6) rotate(150)" />
<path d="M120.5,164.2 L117.3,158.75 M114.71,160.27 L119.89,157.23" stroke="#222" stroke-width="0.9" fill="none"/>
<use href="#bussh" transform="translate(179.4,186.6) rotate(-30)" />
<use href="#bus" transform="translate(181.4,184) rotate(-30)" />
<path d="M174.4,169.7 L170.5,163.4 M167.95,164.98 L173.05,161.82" stroke="#222" stroke-width="0.9" fill="none"/>
<g transform="translate(203.1,217.6) rotate(-30)"><rect x="-9.4" y="-9.4" width="18.8" height="18.8" rx="1" fill="#0a00e4" stroke="#2a20a0" stroke-width="0.5"/><path d="M-5,-3.4 H-0.6" stroke="#fff" stroke-width="1.6"/><path d="M2.4,-2 V3" stroke="#fff" stroke-width="1.4"/><path d="M2.4,6.4 L0.4,2.4 H4.4 Z" fill="#fff"/><path d="M-8.2,8.4 L8.6,-8" stroke="#e8121c" stroke-width="1.7"/></g>
<path d="M197.8,208.75 L195.5,202.5 M192.68,203.54 L198.32,201.46" stroke="#222" stroke-width="0.9" fill="none"/>
<g transform="translate(154.8,227.6) rotate(-30)"><rect x="-8.6" y="-13.2" width="17.2" height="26.4" rx="1.2" fill="#fff" stroke="#0a0a0a" stroke-width="1.9"/><circle cx="0" cy="-0.4" r="7.2" fill="#e8121c"/><circle cx="0" cy="-0.4" r="5.2" fill="#0a00e4"/><path d="M-3.8,-4 L3.8,3.4" stroke="#e8121c" stroke-width="1.5"/><path d="M-5,-10.6 H5" stroke="#333" stroke-width="1" stroke-dasharray="0.8 0.5"/><path d="M-5,10.4 H5" stroke="#333" stroke-width="1.2" stroke-dasharray="0.8 0.5"/></g>
<g transform="translate(167.6,248.3) rotate(-30)"><rect x="-9" y="-9.6" width="18" height="19.2" rx="1" fill="#0a00e4" stroke="#2a20a0" stroke-width="0.5"/><rect x="-3.2" y="-6.4" width="6.4" height="4" rx="0.8" fill="#fff"/><rect x="-1.6" y="-5.4" width="3.2" height="2" fill="#0a00e4"/><path d="M0,-2 V3.4" stroke="#fff" stroke-width="1.6"/><path d="M0,7.6 L-2.6,3 H2.6 Z" fill="#fff"/></g>
<path d="M147.2,214.5 L144.8,209.8 M142.13,211.16 L147.47,208.44" stroke="#222" stroke-width="0.9" fill="none"/>
<text transform="translate(203.1,32.2) rotate(-30) scale(0.85,1)" x="0" y="2.5" font-size="8.6" font-style="italic" fill="#d6465a" text-anchor="middle">3.1</text>
<text transform="translate(222,41.1) rotate(150) scale(0.85,1)" x="0" y="2.5" font-size="8.6" font-style="italic" fill="#d6465a" text-anchor="middle">5.19.2</text>
<text transform="translate(225.8,52.8) rotate(-30) scale(0.85,1)" x="0" y="2.5" font-size="8.6" font-style="italic" fill="#d6465a" text-anchor="middle">5.19.1</text>
<text transform="translate(257.8,78.1) rotate(90) scale(0.85,1)" x="0" y="2.5" font-size="8.6" font-style="italic" fill="#d6465a" text-anchor="middle">5.16</text>
<text transform="translate(266.9,78.1) rotate(-90) scale(0.85,1)" x="0" y="2.5" font-size="8.6" font-style="italic" fill="#d6465a" text-anchor="middle">5.16</text>
<text transform="translate(307.5,44.5) rotate(0) scale(0.85,1)" x="0" y="2.5" font-size="8.6" font-style="italic" fill="#d6465a" text-anchor="middle">6.4</text>
<text transform="translate(312.5,59.3) rotate(0) scale(0.85,1)" x="0" y="2.5" font-size="8.6" font-style="italic" fill="#d6465a" text-anchor="middle">8.2.5</text>
<text transform="translate(312,68) rotate(0) scale(0.85,1)" x="0" y="2.5" font-size="8.6" font-style="italic" fill="#d6465a" text-anchor="middle">8.4.4</text>
<text transform="translate(372,22.5) rotate(180) scale(0.85,1)" x="0" y="2.5" font-size="8.6" font-style="italic" fill="#d6465a" text-anchor="middle">5.19.1</text>
<text transform="translate(372,31.3) rotate(0) scale(0.85,1)" x="0" y="2.5" font-size="8.6" font-style="italic" fill="#d6465a" text-anchor="middle">5.19.2</text>
<text transform="translate(362,43) rotate(0) scale(0.85,1)" x="0" y="2.5" font-size="8.6" font-style="italic" fill="#d6465a" text-anchor="middle">6.4</text>
<text transform="translate(381.3,51.3) rotate(180) scale(0.85,1)" x="0" y="2.5" font-size="8.6" font-style="italic" fill="#d6465a" text-anchor="middle">3.1</text>
<text transform="translate(365.5,57.5) rotate(0) scale(0.85,1)" x="0" y="2.5" font-size="8.6" font-style="italic" fill="#d6465a" text-anchor="middle">8.2.6</text>
<text transform="translate(366.3,66.3) rotate(0) scale(0.85,1)" x="0" y="2.5" font-size="8.6" font-style="italic" fill="#d6465a" text-anchor="middle">8.4.4</text>
<text transform="translate(433.8,1.2) rotate(180) scale(0.85,1)" x="0" y="2.5" font-size="8.6" font-style="italic" fill="#d6465a" text-anchor="middle">5.19.2</text>
<text transform="translate(519.2,110.6) rotate(0) scale(0.85,1)" x="0" y="2.5" font-size="8.6" font-style="italic" fill="#d6465a" text-anchor="middle">2.4</text>
<text transform="translate(522,128.1) rotate(0) scale(0.85,1)" x="0" y="2.5" font-size="8.6" font-style="italic" fill="#d6465a" text-anchor="middle">5.6</text>
<text transform="translate(477.8,123.9) rotate(-90) scale(0.85,1)" x="0" y="2.5" font-size="8.6" font-style="italic" fill="#d6465a" text-anchor="middle">5.19.2</text>
<text transform="translate(469.7,123.4) rotate(90) scale(0.85,1)" x="0" y="2.5" font-size="8.6" font-style="italic" fill="#d6465a" text-anchor="middle">5.19.1</text>
<text transform="translate(534,146.4) rotate(180) scale(0.85,1)" x="0" y="2.5" font-size="8.6" font-style="italic" fill="#d6465a" text-anchor="middle">5.19.2</text>
<text transform="translate(533.6,155) rotate(0) scale(0.85,1)" x="0" y="2.5" font-size="8.6" font-style="italic" fill="#d6465a" text-anchor="middle">5.19.1</text>
<text transform="translate(528.9,180.8) rotate(0) scale(0.85,1)" x="0" y="2.5" font-size="8.6" font-style="italic" fill="#d6465a" text-anchor="middle">5.15.1</text>
<text transform="translate(528.1,203.8) rotate(0) scale(0.85,1)" x="0" y="2.5" font-size="8.6" font-style="italic" fill="#d6465a" text-anchor="middle">5.28</text>
<text transform="translate(456.8,157.2) rotate(0) scale(0.85,1)" x="0" y="2.5" font-size="8.6" font-style="italic" fill="#d6465a" text-anchor="middle">6.16</text>
<text transform="translate(481.3,224.8) rotate(180) scale(0.85,1)" x="0" y="2.5" font-size="8.6" font-style="italic" fill="#d6465a" text-anchor="middle">5.16</text>
<text transform="translate(481.3,233.8) rotate(0) scale(0.85,1)" x="0" y="2.5" font-size="8.6" font-style="italic" fill="#d6465a" text-anchor="middle">5.16</text>
<text transform="translate(496.9,229.5) rotate(-100) scale(0.85,1)" x="0" y="2.5" font-size="8.6" font-style="italic" fill="#d6465a" text-anchor="middle">5.7.1</text>
<text transform="translate(518,233.1) rotate(80) scale(0.85,1)" x="0" y="2.5" font-size="8.6" font-style="italic" fill="#d6465a" text-anchor="middle">2.4</text>
<text transform="translate(427.2,208) rotate(90) scale(0.85,1)" x="0" y="2.5" font-size="8.6" font-style="italic" fill="#d6465a" text-anchor="middle">8.9.1</text>
<text transform="translate(436.6,208) rotate(90) scale(0.85,1)" x="0" y="2.5" font-size="8.6" font-style="italic" fill="#d6465a" text-anchor="middle">8.6.5</text>
<text transform="translate(446,208.8) rotate(90) scale(0.85,1)" x="0" y="2.5" font-size="8.6" font-style="italic" fill="#d6465a" text-anchor="middle">8.2.5</text>
<text transform="translate(460.8,205.6) rotate(90) scale(0.85,1)" x="0" y="2.5" font-size="8.6" font-style="italic" fill="#d6465a" text-anchor="middle">6.4</text>
<text transform="translate(451.9,261.9) rotate(-4) scale(0.85,1)" x="0" y="2.5" font-size="8.6" font-style="italic" fill="#d6465a" text-anchor="middle">3.27</text>
<text transform="translate(452.5,275.5) rotate(-4) scale(0.85,1)" x="0" y="2.5" font-size="8.6" font-style="italic" fill="#d6465a" text-anchor="middle">8.24</text>
<text transform="translate(502.6,282.8) rotate(-4) scale(0.85,1)" x="0" y="2.5" font-size="8.6" font-style="italic" fill="#d6465a" text-anchor="middle">3.27</text>
<text transform="translate(503.4,296.3) rotate(-4) scale(0.85,1)" x="0" y="2.5" font-size="8.6" font-style="italic" fill="#d6465a" text-anchor="middle">8.24</text>
<text transform="translate(455,313.5) rotate(-35) scale(0.85,1)" x="0" y="2.5" font-size="8.6" font-style="italic" fill="#d6465a" text-anchor="middle">4.1.4</text>
<text transform="translate(473.4,322) rotate(145) scale(0.85,1)" x="0" y="2.5" font-size="8.6" font-style="italic" fill="#d6465a" text-anchor="middle">5.19.2</text>
<text transform="translate(477.4,332.5) rotate(-35) scale(0.85,1)" x="0" y="2.5" font-size="8.6" font-style="italic" fill="#d6465a" text-anchor="middle">5.19.1</text>
<text transform="translate(483,354.3) rotate(-60) scale(0.85,1)" x="0" y="2.5" font-size="8.6" font-style="italic" fill="#d6465a" text-anchor="middle">3.27</text>
<text transform="translate(495.5,360.8) rotate(-60) scale(0.85,1)" x="0" y="2.5" font-size="8.6" font-style="italic" fill="#d6465a" text-anchor="middle">8.24</text>
<text transform="translate(527,332.5) rotate(200) scale(0.85,1)" x="0" y="2.5" font-size="8.6" font-style="italic" fill="#d6465a" text-anchor="middle">2.4</text>
<text transform="translate(512,346.3) rotate(200) scale(0.85,1)" x="0" y="2.5" font-size="8.6" font-style="italic" fill="#d6465a" text-anchor="middle">5.7.1</text>
<text transform="translate(522,376.3) rotate(-90) scale(0.85,1)" x="0" y="2.5" font-size="8.6" font-style="italic" fill="#d6465a" text-anchor="middle">1.11.1</text>
<text transform="translate(539.3,379.5) rotate(-90) scale(0.85,1)" x="0" y="2.5" font-size="8.6" font-style="italic" fill="#d6465a" text-anchor="middle">3.27</text>
<text transform="translate(553,380.5) rotate(-90) scale(0.85,1)" x="0" y="2.5" font-size="8.6" font-style="italic" fill="#d6465a" text-anchor="middle">8.24</text>
<text transform="translate(588.8,376.8) rotate(180) scale(0.85,1)" x="0" y="2.5" font-size="8.6" font-style="italic" fill="#d6465a" text-anchor="middle">2.4</text>
<text transform="translate(580,394.5) rotate(180) scale(0.85,1)" x="0" y="2.5" font-size="8.6" font-style="italic" fill="#d6465a" text-anchor="middle">5.7.1</text>
<text transform="translate(423.8,479) rotate(-90) scale(0.85,1)" x="0" y="2.5" font-size="8.6" font-style="italic" fill="#d6465a" text-anchor="middle">6.4</text>
<text transform="translate(438.8,476.5) rotate(-90) scale(0.85,1)" x="0" y="2.5" font-size="8.6" font-style="italic" fill="#d6465a" text-anchor="middle">8.17</text>
<text transform="translate(448.8,476.5) rotate(-90) scale(0.85,1)" x="0" y="2.5" font-size="8.6" font-style="italic" fill="#d6465a" text-anchor="middle">8.9.1</text>
<text transform="translate(510.5,478.5) rotate(-90) scale(0.85,1)" x="0" y="2.5" font-size="8.6" font-style="italic" fill="#d6465a" text-anchor="middle">3.27</text>
<text transform="translate(524.3,478.5) rotate(-90) scale(0.85,1)" x="0" y="2.5" font-size="8.6" font-style="italic" fill="#d6465a" text-anchor="middle">8.24</text>
<text transform="translate(387,472.6) rotate(150) scale(0.85,1)" x="0" y="2.5" font-size="8.6" font-style="italic" fill="#d6465a" text-anchor="middle">3.1</text>
<text transform="translate(362.7,454.3) rotate(145) scale(0.85,1)" x="0" y="2.5" font-size="8.6" font-style="italic" fill="#d6465a" text-anchor="middle">5.19.1</text>
<text transform="translate(367.1,463.5) rotate(-35) scale(0.85,1)" x="0" y="2.5" font-size="8.6" font-style="italic" fill="#d6465a" text-anchor="middle">5.19.2</text>
<text transform="translate(303.3,387.2) rotate(180) scale(0.85,1)" x="0" y="2.5" font-size="8.6" font-style="italic" fill="#d6465a" text-anchor="middle">8.9.1</text>
<text transform="translate(304,397.2) rotate(180) scale(0.85,1)" x="0" y="2.5" font-size="8.6" font-style="italic" fill="#d6465a" text-anchor="middle">8.17</text>
<text transform="translate(306.2,411) rotate(180) scale(0.85,1)" x="0" y="2.5" font-size="8.6" font-style="italic" fill="#d6465a" text-anchor="middle">6.4</text>
<text transform="translate(356.4,411.4) rotate(90) scale(0.85,1)" x="0" y="2.5" font-size="8.6" font-style="italic" fill="#d6465a" text-anchor="middle">5.19.1</text>
<text transform="translate(364.2,411.4) rotate(-90) scale(0.85,1)" x="0" y="2.5" font-size="8.6" font-style="italic" fill="#d6465a" text-anchor="middle">5.19.2</text>
<text transform="translate(384.3,403.2) rotate(90) scale(0.85,1)" x="0" y="2.5" font-size="8.6" font-style="italic" fill="#d6465a" text-anchor="middle">3.18.1</text>
<text transform="translate(152,329.5) rotate(90) scale(0.85,1)" x="0" y="2.5" font-size="8.6" font-style="italic" fill="#d6465a" text-anchor="middle">5.19.1</text>
<text transform="translate(160.8,329.5) rotate(-90) scale(0.85,1)" x="0" y="2.5" font-size="8.6" font-style="italic" fill="#d6465a" text-anchor="middle">5.19.2</text>
<text transform="translate(183.8,353.3) rotate(90) scale(0.85,1)" x="0" y="2.5" font-size="8.6" font-style="italic" fill="#d6465a" text-anchor="middle">8.9.1</text>
<text transform="translate(193.3,353.3) rotate(90) scale(0.85,1)" x="0" y="2.5" font-size="8.6" font-style="italic" fill="#d6465a" text-anchor="middle">8.6.5</text>
<text transform="translate(203,353.3) rotate(90) scale(0.85,1)" x="0" y="2.5" font-size="8.6" font-style="italic" fill="#d6465a" text-anchor="middle">8.2.6</text>
<text transform="translate(217,350.8) rotate(90) scale(0.85,1)" x="0" y="2.5" font-size="8.6" font-style="italic" fill="#d6465a" text-anchor="middle">6.4</text>
<text transform="translate(227.5,358) rotate(-90) scale(0.85,1)" x="0" y="2.5" font-size="8.6" font-style="italic" fill="#d6465a" text-anchor="middle">3.1</text>
<text transform="translate(247,349.5) rotate(-90) scale(0.85,1)" x="0" y="2.5" font-size="8.6" font-style="italic" fill="#d6465a" text-anchor="middle">5.19.2</text>
<text transform="translate(255.5,349.5) rotate(90) scale(0.85,1)" x="0" y="2.5" font-size="8.6" font-style="italic" fill="#d6465a" text-anchor="middle">5.19.1</text>
<text transform="translate(227,300.5) rotate(180) scale(0.85,1)" x="0" y="2.5" font-size="8.6" font-style="italic" fill="#d6465a" text-anchor="middle">8.24</text>
<text transform="translate(227,314.5) rotate(180) scale(0.85,1)" x="0" y="2.5" font-size="8.6" font-style="italic" fill="#d6465a" text-anchor="middle">3.27</text>
<text transform="translate(121.3,205) rotate(150) scale(0.85,1)" x="0" y="2.5" font-size="8.6" font-style="italic" fill="#d6465a" text-anchor="middle">5.5</text>
<text transform="translate(162.5,191.3) rotate(150) scale(0.85,1)" x="0" y="2.5" font-size="8.6" font-style="italic" fill="#d6465a" text-anchor="middle">5.16</text>
<text transform="translate(167,198.8) rotate(-30) scale(0.85,1)" x="0" y="2.5" font-size="8.6" font-style="italic" fill="#d6465a" text-anchor="middle">5.16</text>
<text transform="translate(138,236.3) rotate(150) scale(0.85,1)" x="0" y="2.5" font-size="8.6" font-style="italic" fill="#d6465a" text-anchor="middle">5.27</text>
<text transform="translate(182,229.3) rotate(150) scale(0.85,1)" x="0" y="2.5" font-size="8.6" font-style="italic" fill="#d6465a" text-anchor="middle">5.14.3</text>
<text transform="translate(147,261.8) rotate(150) scale(0.85,1)" x="0" y="2.5" font-size="8.6" font-style="italic" fill="#d6465a" text-anchor="middle">5.14.1</text>
<text transform="translate(199.5,242.5) rotate(-90) scale(0.85,1)" x="0" y="2.5" font-size="8.6" font-style="italic" fill="#d6465a" text-anchor="middle">5.19.2</text>
<text transform="translate(207,242.5) rotate(90) scale(0.85,1)" x="0" y="2.5" font-size="8.6" font-style="italic" fill="#d6465a" text-anchor="middle">5.19.1</text>
<text transform="translate(99.4,185.3) rotate(150) scale(0.85,1)" x="0" y="2.5" font-size="8.6" font-style="italic" fill="#d6465a" text-anchor="middle">5.19.1</text>
<text transform="translate(102.5,195) rotate(-30) scale(0.85,1)" x="0" y="2.5" font-size="8.6" font-style="italic" fill="#d6465a" text-anchor="middle">5.19.2</text>
<text x="62" y="351" font-size="9" fill="#6c6c6c" textLength="118.5" lengthAdjust="spacingAndGlyphs">Железнодорожный Вокзал</text>
<text x="319.3" y="436" font-size="7" fill="#7c7c7c" textLength="37" lengthAdjust="spacing">ДОМ 18 с1</text>
</svg>
</body></html>
